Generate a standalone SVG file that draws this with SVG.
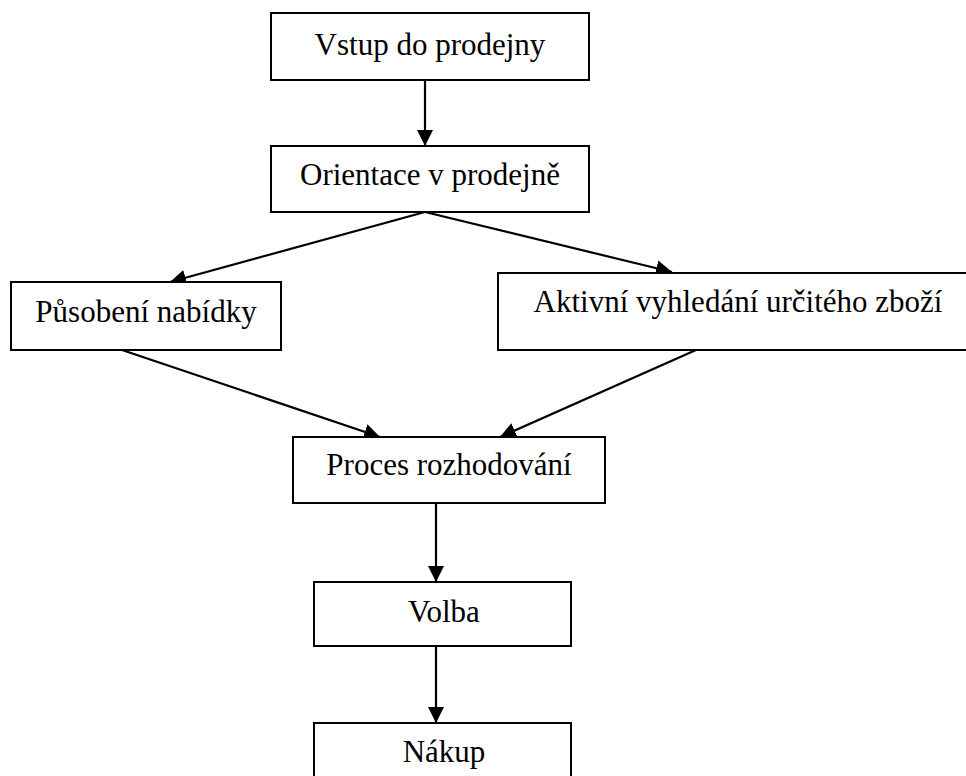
<svg xmlns="http://www.w3.org/2000/svg" width="966" height="776" viewBox="0 0 966 776">
<style>
.box{fill:#fff;stroke:#000;stroke-width:2}
.lbl{font-family:"Liberation Serif","Times New Roman",serif;font-size:31px;fill:#000;text-anchor:middle}
.con{stroke:#000;stroke-width:2.2;fill:none;marker-end:url(#ah)}
</style>
<defs>
<marker id="ah" markerUnits="userSpaceOnUse" markerWidth="16" markerHeight="16" viewBox="0 0 16 16" refX="16" refY="8" orient="auto">
<path d="M0,0 L16,8 L0,16 Z" fill="#000"/>
</marker>
</defs>
<rect width="966" height="776" fill="#fff"/>
<g id="connectors">
<line class="con" x1="425" y1="81" x2="425" y2="146"/>
<line class="con" x1="425" y1="212" x2="170" y2="282"/>
<line class="con" x1="425" y1="212" x2="672" y2="272"/>
<line class="con" x1="122" y1="350" x2="380" y2="437"/>
<line class="con" x1="696" y1="350" x2="500" y2="437"/>
<line class="con" x1="436" y1="503" x2="436" y2="582"/>
<line class="con" x1="436" y1="646" x2="436" y2="723"/>
</g>
<g id="n1"><rect class="box" x="271" y="13" width="318" height="67"/><text class="lbl" x="430" y="55">Vstup do prodejny</text></g>
<g id="n2"><rect class="box" x="271" y="146" width="318" height="66"/><text class="lbl" x="430" y="185">Orientace v prodejně</text></g>
<g id="n3"><rect class="box" x="11" y="282" width="270" height="68"/><text class="lbl" x="146" y="322">Působení nabídky</text></g>
<g id="n4"><rect class="box" x="498" y="273" width="480" height="77"/><text class="lbl" x="738" y="312">Aktivní vyhledání určitého zboží</text></g>
<g id="n5"><rect class="box" x="293" y="437" width="312" height="66"/><text class="lbl" x="449" y="475">Proces rozhodování</text></g>
<g id="n6"><rect class="box" x="314" y="582" width="257" height="64"/><text class="lbl" x="444" y="622">Volba</text></g>
<g id="n7"><rect class="box" x="314" y="723" width="257" height="70"/><text class="lbl" x="444" y="762">Nákup</text></g>
</svg>
